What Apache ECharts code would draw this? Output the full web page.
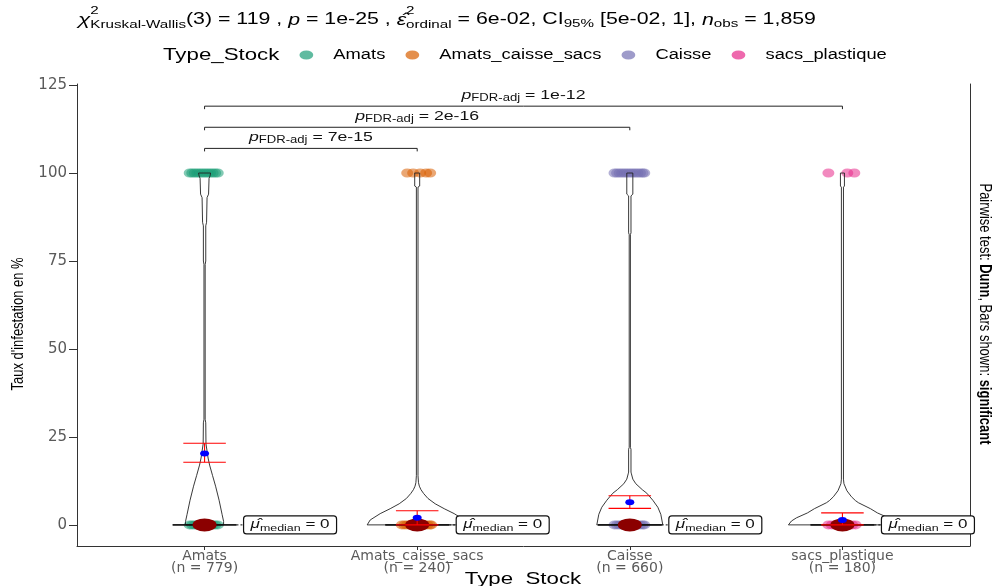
<!DOCTYPE html>
<html>
<head>
<meta charset="utf-8">
<title>Taux d'infestation par Type_Stock</title>
<script src="https://cdn.jsdelivr.net/npm/echarts@6/dist/echarts.min.js"></script>
<style>
  html, body { margin: 0; padding: 0; background: #ffffff; }
  #chart { width: 993px; height: 586px; }
</style>
</head>
<body>
<div id="chart"></div>
<script>
// ---- data ----------------------------------------------------------------
const categories = ['Amats', 'Amats_caisse_sacs', 'Caisse', 'sacs_plastique'];
const groupSizes = [779, 240, 660, 180];
const palette = ['#1B9E77', '#D95F02', '#7570B3', '#E7298A'];

// quartile summary per group: [min, q1, median, q3, max] of the box
const boxStats = [
  [0, 0, 0, 0, 0],
  [0, 0, 0, 0, 0],
  [0, 0, 0, 0, 0],
  [0, 0, 0, 0, 0]
];
const medians = [0, 0, 0, 0];
const means = [20.3, 2.0, 6.4, 1.4];
const ciLow = [17.8, 0, 4.7, 0];
const ciHigh = [23.2, 4.0, 8.3, 3.4];

// observations drawn as jittered points: x jitter (category units) at each recorded value
const jitterAt100 = [
  [-0.07, -0.058, -0.046, -0.034, -0.022, -0.01, 0.002, 0.014, 0.026, 0.038, 0.05, 0.062],
  [-0.047, -0.019, 0.014, 0.042, 0.061],
  [-0.072, -0.06, -0.048, -0.036, -0.024, -0.012, 0.0, 0.012, 0.024, 0.036, 0.048, 0.06, 0.068],
  [-0.066, 0.023, 0.056]
];
const jitterAt0 = [
  [-0.07, -0.058, -0.046, -0.034, -0.022, -0.01, 0.002, 0.014, 0.026, 0.038, 0.05, 0.062],
  [-0.072, -0.06, -0.048, -0.036, -0.024, -0.012, 0.0, 0.012, 0.024, 0.036, 0.048, 0.06, 0.066],
  [-0.072, -0.06, -0.048, -0.036, -0.024, -0.012, 0.0, 0.012, 0.024, 0.036, 0.048, 0.06, 0.068],
  [-0.066, -0.05, -0.034, -0.018, -0.002, 0.014, 0.03, 0.046, 0.062]
];

// violin outlines: [taux, relative density]
const violinAmats = [
  [0, 0.352], [1, 0.352], [3, 0.324], [7, 0.269], [11, 0.204], [14, 0.148], [17, 0.093],
  [19, 0.065], [21, 0.046], [23, 0.026], [29, 0.022], [30, 0.011], [74, 0.011], [75, 0.022],
  [85, 0.022], [86, 0.037], [93, 0.046], [94, 0.074], [98.5, 0.083], [99.2, 0.102], [100, 0.111]
];
const violinAmatsCaisseSacs = [
  [0, 0.926], [1.4, 0.87], [3.2, 0.685], [4.6, 0.5], [6, 0.333], [7.5, 0.2], [8.9, 0.12],
  [10, 0.07], [11, 0.04], [12, 0.024], [14, 0.015], [96, 0.015], [96.3, 0.046], [100, 0.046]
];
const violinCaisse = [
  [0, 0.611], [3, 0.574], [5, 0.519], [7, 0.426], [9, 0.315], [10, 0.231], [11.7, 0.111],
  [13, 0.056], [14.5, 0.03], [15, 0.022], [21.5, 0.022], [22, 0.011], [82.5, 0.011],
  [83, 0.022], [93.5, 0.022], [94, 0.056], [100, 0.056]
];
const violinSacsPlastique = [
  [0, 1.0], [1.1, 0.944], [2, 0.852], [3.4, 0.648], [4.6, 0.519], [6.3, 0.296], [6.9, 0.241],
  [8, 0.167], [9.7, 0.083], [11.7, 0.028], [13, 0.019], [96, 0.019], [96.3, 0.037], [100, 0.037]
];
const violins = [violinAmats, violinAmatsCaisseSacs, violinCaisse, violinSacsPlastique];

// pairwise Dunn comparisons shown as brackets
const pairFrom = [0, 0, 0];
const pairTo = [1, 2, 3];
const pairP = ['7e-15', '2e-16', '1e-12'];
const pairLevel = [107, 113, 119];

// Kruskal-Wallis summary
const kwDf = 3;
const kwStat = 119;
const kwP = '1e-25';
const kwEffect = '6e-02';
const kwCi = ['5e-02', '1'];

const yTicks = [0, 25, 50, 75, 100, 125];

// ---- text helpers --------------------------------------------------------
const FONT = '"Liberation Sans", Arial, Helvetica, sans-serif';
const WIDE = '"DejaVu Sans", Verdana, sans-serif';
const STRETCH = 1.31;          // horizontal widening applied to upright text
const SIDE_SQUEEZE = 1 / 1.31; // along-text narrowing of vertical text

const measure = document.createElement('canvas').getContext('2d');
function segFont(s) {
  return (s.italic ? 'italic ' : '') + (s.bold ? 'bold ' : '') + s.size + 'px ' + FONT;
}
function segWidth(s) {
  measure.font = segFont(s);
  return measure.measureText(s.t).width * STRETCH;
}
function runWidth(segs) {
  return segs.reduce((w, s) => w + (s.hold ? 0 : segWidth(s)), 0);
}
// pieces flagged `hold` sit above the next piece and do not advance the pen
function runElements(segs, x0, y0, color) {
  let x = x0;
  return segs.map(s => {
    const el = {
      type: 'text', x: x, y: y0 + (s.dy || 0), scaleX: STRETCH, silent: true,
      style: { text: s.t, font: segFont(s), fill: color || '#000', align: 'left', verticalAlign: 'middle' }
    };
    if (!s.hold) x += segWidth(s);
    return el;
  });
}
// vertical caption centred on (x, y); angle in radians
function sideText(text, x, y, angle, rich) {
  return {
    type: 'text', x: x, y: y, rotation: angle, scaleX: SIDE_SQUEEZE, silent: true,
    style: {
      text: text, font: '17px ' + FONT, fill: '#000', align: 'center', verticalAlign: 'middle',
      rich: rich || {}
    }
  };
}

const nObs = groupSizes.reduce((a, b) => a + b, 0).toLocaleString('en-US');
const T = 16.3, S = 11.6;
const titleSegs = [
  { t: 'χ', size: T + 1, italic: true },
  { t: '2', size: S, dy: -9, hold: true },
  { t: 'Kruskal-Wallis', size: S, dy: 5 },
  { t: '(' + kwDf + ') = ' + kwStat + ' , ', size: T },
  { t: 'p', size: T, italic: true },
  { t: ' = ' + kwP + ' , ', size: T },
  { t: 'ε\u0302', size: T, italic: true },
  { t: '2', size: S, dy: -9, hold: true },
  { t: 'ordinal', size: S, dy: 5 },
  { t: ' = ' + kwEffect + ', CI', size: T },
  { t: '95%', size: S, dy: 4 },
  { t: ' [' + kwCi[0] + ', ' + kwCi[1] + '], ', size: T },
  { t: 'n', size: T, italic: true },
  { t: 'obs', size: S, dy: 4 },
  { t: ' = ' + nObs, size: T }
];

function legendElements() {
  const y = 55;
  let x = 163;
  const els = [];
  const head = { t: 'Type_Stock', size: 17 };
  els.push(...runElements([head], x, y));
  x += segWidth(head) + 27;
  categories.forEach((c, i) => {
    els.push({
      type: 'circle', x: x, y: y, scaleX: 1.5, silent: true,
      shape: { cx: 0, cy: 0, r: 4.6 },
      style: { fill: palette[i], opacity: 0.7 }
    });
    x += 27;
    const s = { t: c, size: 14 };
    els.push(...runElements([s], x, y));
    x += segWidth(s) + 27;
  });
  return els;
}

// ---- layout constants ----------------------------------------------------
const X_MIN = -0.6, X_MAX = 3.6;
const Y_MIN = -6, Y_MAX = 125.3;
const VIOLIN_HALF = 0.254;   // category units at density 1
const BOX_HALF = 0.15;
const ERR_HALF = 0.1;

const chart = echarts.init(document.getElementById('chart'));

const pointSeries = categories.map((c, i) => ({
  name: c,
  type: 'scatter',
  z: 1,
  silent: true,
  symbol: 'circle',
  symbolSize: [12, 9],
  itemStyle: { color: palette[i], opacity: 0.55 },
  data: jitterAt100[i].map(o => [i + o, 100]).concat(jitterAt0[i].map(o => [i + o, 0]))
}));

const option = {
  animation: false,
  backgroundColor: '#ffffff',
  textStyle: { fontFamily: FONT },
  grid: { left: 77, right: 23, top: 84, bottom: 40, containLabel: false, outerBoundsMode: 'none' },
  xAxis: {
    type: 'value', min: X_MIN, max: X_MAX,
    axisLine: { show: true, onZero: false, lineStyle: { color: '#333333', width: 1 } },
    axisTick: { show: true, customValues: categories.map((_, i) => i), length: 4, lineStyle: { color: '#333333' } },
    axisLabel: {
      customValues: categories.map((_, i) => i),
      formatter: v => categories[Math.round(v)] + '\n(n = ' + groupSizes[Math.round(v)] + ')',
      fontFamily: WIDE, fontSize: 14, color: '#5a5a5a', lineHeight: 12, margin: 4
    },
    splitLine: { show: false }
  },
  yAxis: [{
    type: 'value', min: Y_MIN, max: Y_MAX,
    axisLine: { show: true, onZero: false, lineStyle: { color: '#333333', width: 1 } },
    axisTick: { show: true, customValues: yTicks, length: 8, lineStyle: { color: '#333333' } },
    axisLabel: { customValues: yTicks, fontFamily: WIDE, fontSize: 15, color: '#5a5a5a', margin: 10 },
    splitLine: { show: false }
  }, {
    type: 'value', min: Y_MIN, max: Y_MAX, position: 'right',
    axisLine: { show: true, onZero: false, lineStyle: { color: '#333333', width: 1 } },
    axisTick: { show: false }, axisLabel: { show: false }, splitLine: { show: false }
  }],
  graphic: [
    { type: 'group', silent: true, children: runElements(titleSegs, 78, 20) },
    { type: 'group', silent: true, children: legendElements() },
    {
      type: 'group', silent: true,
      children: (() => {
        const s = { t: 'Type_Stock', size: 17 };
        return runElements([s], 523 - segWidth(s) / 2, 579);
      })()
    },
    sideText("Taux d'infestation en %", 18, 324, Math.PI / 2),
    sideText('Pairwise test: {b|Dunn}, Bars shown: {b|significant}', 985, 314, -Math.PI / 2,
      { b: { font: 'bold 17px ' + FONT, fill: '#000' } })
  ],
  series: [
    ...pointSeries,
    {
      // violin outlines
      type: 'custom', z: 2, silent: true,
      data: categories.map((_, i) => [i, 0]),
      renderItem: (params, api) => {
        const i = params.dataIndex;
        const prof = violins[i];
        const right = prof.map(([v, d]) => api.coord([i + d * VIOLIN_HALF, v]));
        const left = prof.slice().reverse().map(([v, d]) => api.coord([i - d * VIOLIN_HALF, v]));
        return {
          type: 'polygon',
          shape: { points: right.concat(left) },
          style: { fill: 'none', stroke: '#222222', lineWidth: 0.9 }
        };
      }
    },
    {
      // boxes (quartiles) with whiskers
      type: 'custom', z: 3, silent: true,
      data: categories.map((_, i) => [i, boxStats[i][2]]),
      renderItem: (params, api) => {
        const i = params.dataIndex;
        const [mn, q1, md, q3, mx] = boxStats[i];
        const a = api.coord([i - BOX_HALF, q3]);
        const b = api.coord([i + BOX_HALF, q1]);
        const m1 = api.coord([i - BOX_HALF, md]);
        const m2 = api.coord([i + BOX_HALF, md]);
        const top = api.coord([i, mx]), qTop = api.coord([i, q3]);
        const bot = api.coord([i, mn]), qBot = api.coord([i, q1]);
        const st = { stroke: '#111111', lineWidth: 1.3, fill: 'none' };
        return {
          type: 'group',
          children: [
            { type: 'rect', shape: { x: a[0], y: a[1], width: b[0] - a[0], height: b[1] - a[1] }, style: st },
            { type: 'line', shape: { x1: m1[0], y1: m1[1], x2: m2[0], y2: m2[1] }, style: st },
            { type: 'line', shape: { x1: top[0], y1: top[1], x2: qTop[0], y2: qTop[1] }, style: st },
            { type: 'line', shape: { x1: bot[0], y1: bot[1], x2: qBot[0], y2: qBot[1] }, style: st }
          ]
        };
      }
    },
    {
      // group medians
      type: 'scatter', z: 4, silent: true,
      symbol: 'circle', symbolSize: [24, 13],
      itemStyle: { color: '#8B0000', opacity: 1 },
      data: medians.map((m, i) => [i, m])
    },
    {
      // confidence interval of the mean
      type: 'custom', z: 5, silent: true,
      data: categories.map((_, i) => [i, ciLow[i], ciHigh[i]]),
      renderItem: (params, api) => {
        const i = params.dataIndex;
        const lo = api.coord([i, ciLow[i]]), hi = api.coord([i, ciHigh[i]]);
        const l1 = api.coord([i - ERR_HALF, ciLow[i]]), l2 = api.coord([i + ERR_HALF, ciLow[i]]);
        const h1 = api.coord([i - ERR_HALF, ciHigh[i]]), h2 = api.coord([i + ERR_HALF, ciHigh[i]]);
        const st = { stroke: '#FF0000', lineWidth: 1.1 };
        return {
          type: 'group',
          children: [
            { type: 'line', shape: { x1: lo[0], y1: lo[1], x2: hi[0], y2: hi[1] }, style: st },
            { type: 'line', shape: { x1: l1[0], y1: l1[1], x2: l2[0], y2: l2[1] }, style: st },
            { type: 'line', shape: { x1: h1[0], y1: h1[1], x2: h2[0], y2: h2[1] }, style: st }
          ]
        };
      }
    },
    {
      // group means
      type: 'scatter', z: 6, silent: true,
      symbol: 'circle', symbolSize: [9, 6],
      itemStyle: { color: '#0000FF', opacity: 1 },
      data: means.map((m, i) => [i, m])
    },
    {
      // median annotation boxes
      type: 'custom', z: 7, silent: true,
      data: medians.map((m, i) => [i, m]),
      renderItem: (params, api) => {
        const i = params.dataIndex;
        const p = api.coord([i, medians[i]]);
        const edge = api.coord([i + BOX_HALF, medians[i]]);
        const bx = p[0] + 39, bw = 93, bh = 18;
        const segs = [
          { t: 'μ\u0302', size: 13, italic: true },
          { t: 'median', size: 9.5, dy: 3 },
          { t: ' = ' + medians[i], size: 13 }
        ];
        const tw = runWidth(segs);
        return {
          type: 'group',
          children: [
            { type: 'line', shape: { x1: edge[0], y1: p[1], x2: bx, y2: p[1] },
              style: { stroke: '#111111', lineWidth: 1, lineDash: [2, 2] } },
            { type: 'rect', shape: { x: bx, y: p[1] - bh / 2, width: bw, height: bh, r: 3 },
              style: { fill: '#ffffff', stroke: '#111111', lineWidth: 1.2 } },
            ...runElements(segs, bx + (bw - tw) / 2, p[1], '#111111')
          ]
        };
      }
    },
    {
      // significance brackets
      type: 'custom', z: 8, silent: true,
      data: pairP.map((_, k) => [pairFrom[k], pairLevel[k]]),
      renderItem: (params, api) => {
        const k = params.dataIndex;
        const a = api.coord([pairFrom[k], pairLevel[k]]);
        const b = api.coord([pairTo[k], pairLevel[k]]);
        const drop = 3;
        const segs = [
          { t: 'p', size: 13.5, italic: true },
          { t: 'FDR-adj', size: 10, dy: 3 },
          { t: ' = ' + pairP[k], size: 13.5 }
        ];
        const tw = runWidth(segs);
        return {
          type: 'group',
          children: [
            { type: 'polyline',
              shape: { points: [[a[0], a[1] + drop], [a[0], a[1]], [b[0], b[1]], [b[0], b[1] + drop]] },
              style: { stroke: '#222222', lineWidth: 1, fill: 'none' } },
            ...runElements(segs, (a[0] + b[0]) / 2 - tw / 2, a[1] - 11, '#111111')
          ]
        };
      }
    }
  ]
};

chart.setOption(option);
</script>
</body>
</html>
